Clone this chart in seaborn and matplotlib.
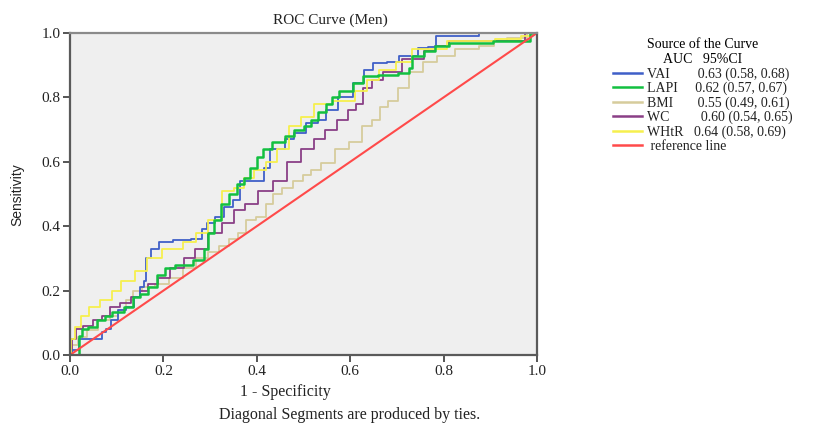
import matplotlib
matplotlib.use("Agg")
import matplotlib.pyplot as plt
import numpy as np
import pandas as pd
import seaborn as sns

# ---------------- data ----------------
vai_fpr = [0, 0.01, 0.03, 0.06, 0.075, 0.08, 0.096, 0.11, 0.13, 0.146, 0.155, 0.16, 0.167, 0.18,
           0.20, 0.24, 0.28, 0.285, 0.30, 0.32, 0.34, 0.36, 0.37, 0.41, 0.42, 0.435, 0.45, 0.47,
           0.49, 0.52, 0.54, 0.557, 0.59, 0.62, 0.64, 0.657, 0.70, 0.707, 0.735, 0.756, 0.777,
           0.79, 0.87, 0.88, 1.0]
vai_tpr = [0, 0.015, 0.05, 0.05, 0.07, 0.08, 0.11, 0.14, 0.15, 0.18, 0.21, 0.23, 0.30, 0.33,
           0.35, 0.357, 0.36, 0.39, 0.41, 0.43, 0.46, 0.48, 0.54, 0.54, 0.58, 0.64, 0.64, 0.67,
           0.69, 0.72, 0.73, 0.76, 0.80, 0.845, 0.885, 0.907, 0.91, 0.93, 0.93, 0.953, 0.957,
           0.99, 0.99, 1.0, 1.0]

lapi_fpr = [0, 0.02, 0.02, 0.03, 0.047, 0.07, 0.08, 0.10, 0.13, 0.14, 0.16, 0.175, 0.197, 0.21,
            0.24, 0.285, 0.29, 0.30, 0.315, 0.33, 0.35, 0.364, 0.38, 0.39, 0.41, 0.415, 0.45,
            0.47, 0.49, 0.51, 0.52, 0.54, 0.557, 0.563, 0.59, 0.62, 0.635, 0.685, 0.72, 0.73,
            0.735, 0.78, 0.785, 0.84, 0.97, 1.0]
lapi_tpr = [0, 0, 0.06, 0.08, 0.087, 0.11, 0.12, 0.135, 0.15, 0.18, 0.19, 0.21, 0.25, 0.27,
            0.28, 0.295, 0.33, 0.38, 0.42, 0.47, 0.50, 0.53, 0.55, 0.58, 0.615, 0.64, 0.66,
            0.68, 0.70, 0.71, 0.73, 0.755, 0.78, 0.80, 0.82, 0.845, 0.865, 0.87, 0.875, 0.89,
            0.93, 0.945, 0.96, 0.97, 0.975, 1.0]

bmi_fpr = [0, 0.01, 0.026, 0.047, 0.075, 0.096, 0.11, 0.13, 0.14, 0.167, 0.197, 0.225, 0.26,
           0.28, 0.31, 0.33, 0.35, 0.37, 0.385, 0.41, 0.43, 0.44, 0.47, 0.486, 0.51, 0.52,
           0.557, 0.578, 0.615, 0.636, 0.657, 0.67, 0.69, 0.713, 0.74, 0.77, 0.80, 0.85, 0.90,
           0.915, 0.957, 1.0]
bmi_tpr = [0, 0.03, 0.056, 0.078, 0.11, 0.12, 0.14, 0.17, 0.20, 0.21, 0.22, 0.24, 0.27,
           0.30, 0.32, 0.34, 0.36, 0.38, 0.42, 0.43, 0.47, 0.50, 0.52, 0.54, 0.56, 0.575,
           0.595, 0.64, 0.66, 0.71, 0.73, 0.77, 0.79, 0.83, 0.88, 0.91, 0.93, 0.95, 0.96,
           0.975, 0.985, 1.0]

wc_fpr = [0, 0.01, 0.017, 0.04, 0.06, 0.075, 0.096, 0.12, 0.14, 0.16, 0.176, 0.20, 0.23, 0.257,
          0.28, 0.31, 0.34, 0.364, 0.385, 0.42, 0.45, 0.48, 0.51, 0.535, 0.557, 0.585, 0.606,
          0.62, 0.636, 0.657, 0.685, 0.735, 0.78, 0.785, 0.84, 0.95, 1.0]
wc_tpr = [0, 0.05, 0.08, 0.09, 0.11, 0.12, 0.15, 0.16, 0.18, 0.20, 0.22, 0.24, 0.27, 0.30,
          0.33, 0.38, 0.41, 0.45, 0.47, 0.51, 0.54, 0.60, 0.64, 0.67, 0.70, 0.73, 0.76,
          0.78, 0.83, 0.855, 0.88, 0.92, 0.945, 0.96, 0.975, 0.975, 1.0]

whtr_fpr = [0, 0.005, 0.017, 0.03, 0.05, 0.08, 0.10, 0.12, 0.16, 0.17, 0.225, 0.26, 0.28, 0.31,
            0.34, 0.364, 0.38, 0.41, 0.43, 0.456, 0.48, 0.51, 0.535, 0.59, 0.63, 0.64, 0.685,
            0.71, 0.756, 0.86, 0.96, 0.97, 1.0]
whtr_tpr = [0, 0.05, 0.087, 0.12, 0.15, 0.17, 0.20, 0.23, 0.26, 0.30, 0.33, 0.35, 0.38, 0.42,
            0.51, 0.52, 0.55, 0.575, 0.60, 0.64, 0.71, 0.74, 0.78, 0.79, 0.82, 0.855, 0.885,
            0.91, 0.95, 0.975, 0.98, 0.99, 1.0]

ref_x = [0.0, 1.0]
ref_y = [0.0, 1.0]

names = ["VAI", "LAPI", "BMI", "WC", "WHtR"]
auc_text = ["0.63 (0.58, 0.68)", "0.62 (0.57, 0.67)", "0.55 (0.49, 0.61)",
            "0.60 (0.54, 0.65)", "0.64 (0.58, 0.69)"]
name_gap = [8, 5, 7, 9, 3]
tick_vals = [0.0, 0.2, 0.4, 0.6, 0.8, 1.0]
tick_labels = ["0.0", "0.2", "0.4", "0.6", "0.8", "1.0"]

colors = {"VAI": "#3f5fc8", "LAPI": "#12c040", "BMI": "#d6cc9c",
          "WC": "#8a3f86", "WHtR": "#f6f04e", "ref": "#ff4a4a"}
widths = {"VAI": 1.3, "LAPI": 1.8, "BMI": 1.3, "WC": 1.3, "WHtR": 1.3, "ref": 1.5}

# ---------------- figure ----------------
plt.rcParams["font.family"] = ["Liberation Serif", "DejaVu Serif"]
W, H = 823, 423
fig = plt.figure(figsize=(W / 100, H / 100), dpi=100)
fig.patch.set_facecolor("white")
ax = fig.add_axes([70 / W, 68 / H, 467 / W, 322 / H])
ax.set_facecolor("#efefef")

series = {
    "VAI": (vai_fpr, vai_tpr),
    "LAPI": (lapi_fpr, lapi_tpr),
    "BMI": (bmi_fpr, bmi_tpr),
    "WC": (wc_fpr, wc_tpr),
    "WHtR": (whtr_fpr, whtr_tpr),
}

handles = {}
for key in ["BMI", "WC", "VAI", "WHtR", "LAPI"]:
    fx, ty = series[key]
    df = pd.DataFrame({"fpr": fx, "tpr": ty})
    sns.lineplot(data=df, x="fpr", y="tpr", ax=ax, color=colors[key], lw=widths[key],
                 estimator=None, sort=False, drawstyle="steps-mid", legend=False)
    handles[key] = ax.lines[-1]

ref_df = pd.DataFrame({"x": ref_x, "y": ref_y})
sns.lineplot(data=ref_df, x="x", y="y", ax=ax, color=colors["ref"], lw=widths["ref"],
             estimator=None, sort=False, legend=False)
handles["ref"] = ax.lines[-1]

ax.set_xlim(0, 1)
ax.set_ylim(0, 1)
ax.set_xticks(tick_vals)
ax.set_yticks(tick_vals)
ax.set_xticklabels(tick_labels)
ax.set_yticklabels(tick_labels)
ax.tick_params(direction="out", length=5, width=1.4, color="#555555",
               labelsize=11, labelcolor="#222222", pad=2)
ax.set_xlabel("")
ax.set_ylabel("")
for side, sp in ax.spines.items():
    sp.set_color("#5a5a5a")
    sp.set_linewidth(1.6)
ax.spines["top"].set_color("#8a8a8a")

# texts
fig.text(330 / W, 1 - 20 / H, "ROC Curve (Men)", ha="center", va="center",
         fontsize=11, color="#222222")
fig.text(285 / W, 1 - 392 / H, "1 - Specificity", ha="center", va="center",
         fontsize=11.5, color="#222222")
fig.text(350 / W, 1 - 415 / H, "Diagonal Segments are produced by ties.",
         ha="center", va="center", fontsize=11.5, color="#222222")
fig.text(17 / W, 1 - 195 / H, "Sensitivity", rotation=90, ha="center", va="center",
         fontsize=10, color="#222222", family=["Liberation Sans", "DejaVu Sans"])

# legend
leg_handles = [handles[k] for k in names] + [handles["ref"]]
leg_labels = [n + " " * g + a for n, g, a in zip(names, name_gap, auc_text)] + [" reference line"]
leg = fig.legend(leg_handles, leg_labels, loc="upper left",
                 bbox_to_anchor=(613 / W, 1 - 38 / H), frameon=False, fontsize=10,
                 title="Source of the Curve\nAUC   95%CI", title_fontsize=10,
                 handlelength=2.1, handletextpad=0.35, labelspacing=0.08,
                 borderpad=0, borderaxespad=0)
leg.get_title().set_multialignment("center")
for t in leg.get_texts():
    t.set_color("#222222")
for lh in leg.get_lines():
    lh.set_linewidth(1.8)

fig.savefig("out.png", dpi=100)
